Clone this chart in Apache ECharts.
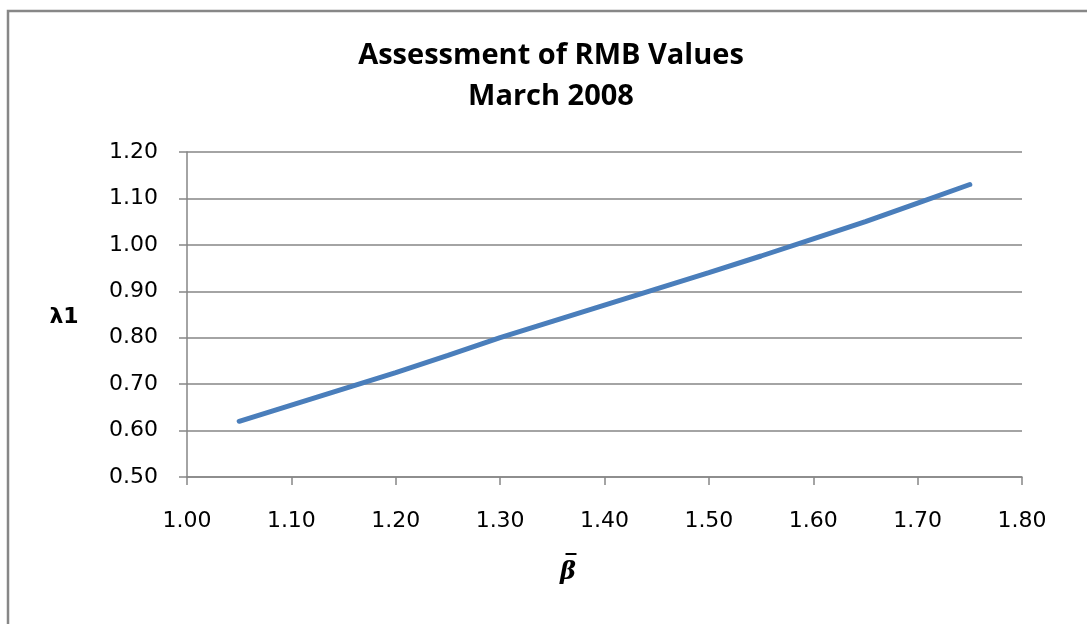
<!DOCTYPE html>
<html>
<head>
<meta charset="utf-8">
<script src="https://cdn.jsdelivr.net/npm/echarts@6/dist/echarts.min.js"></script>
<style>
  html, body { margin: 0; padding: 0; background: #fff; }
  #chart { width: 1087px; height: 624px; }
</style>
</head>
<body>
<div id="chart"></div>
<script>
// beta-bar values and the lambda1 estimate
const betaBar = [1.05, 1.10, 1.15, 1.20, 1.25, 1.30, 1.35, 1.40, 1.45, 1.50, 1.55, 1.60, 1.65, 1.70, 1.75];
const lambda1 = [0.62, 0.655, 0.69, 0.725, 0.762, 0.80, 0.835, 0.87, 0.905, 0.94, 0.976, 1.013, 1.05, 1.09, 1.13];

const titleLines = ["Assessment of RMB Values", "March 2008"];
const yName = "λ1";
const xName = "β";
const xNameBar = "\u203e";

const points = betaBar.map((b, i) => [b, lambda1[i]]);
const gridGray = "#868686";

const chart = echarts.init(document.getElementById("chart"));

chart.setOption({
  backgroundColor: "#fff",
  animation: false,
  graphic: [
    {
      type: "rect",
      shape: { x: 8, y: 11, width: 1200, height: 800 },
      style: { fill: "none", stroke: "#878787", lineWidth: 2.5 },
      silent: true,
    },
    {
      type: "text",
      x: 551,
      y: 56,
      style: {
        text: titleLines[0],
        fontFamily: "Open Sans",
        fontWeight: "bold",
        fontSize: 29,
        fill: "#000",
        align: "center",
        verticalAlign: "middle",
      },
    },
    {
      type: "text",
      x: 551,
      y: 97,
      style: {
        text: titleLines[1],
        fontFamily: "Open Sans",
        fontWeight: "bold",
        fontSize: 29,
        fill: "#000",
        align: "center",
        verticalAlign: "middle",
      },
    },
    {
      type: "text",
      x: 64,
      y: 317,
      style: {
        text: yName,
        fontFamily: "DejaVu Sans",
        fontWeight: "bold",
        fontSize: 22,
        fill: "#000",
        align: "center",
        verticalAlign: "middle",
      },
    },
    {
      type: "text",
      x: 568,
      y: 573,
      style: {
        text: xName,
        fontFamily: "DejaVu Serif",
        fontStyle: "italic",
        fontWeight: "bold",
        fontSize: 24,
        fill: "#000",
        align: "center",
        verticalAlign: "middle",
      },
    },
    {
      type: "text",
      x: 571,
      y: 563,
      style: {
        text: xNameBar,
        fontFamily: "DejaVu Sans",
        fontWeight: "bold",
        fontSize: 22,
        fill: "#000",
        align: "center",
        verticalAlign: "middle",
      },
    },
  ],
  grid: {
    left: 187,
    right: 65,
    top: 152,
    bottom: 147,
    containLabel: false,
  },
  xAxis: {
    type: "value",
    min: 1.0,
    max: 1.8,
    interval: 0.1,
    axisLine: { show: true, onZero: false, lineStyle: { color: gridGray, width: 1.5 } },
    axisTick: { show: true, length: 8, lineStyle: { color: gridGray, width: 1.5 } },
    splitLine: { show: false },
    axisLabel: {
      margin: 33,
      formatter: (v) => v.toFixed(2),
      fontFamily: "DejaVu Sans",
      fontSize: 22,
      color: "#000",
    },
  },
  yAxis: {
    type: "value",
    min: 0.5,
    max: 1.2,
    interval: 0.1,
    axisLine: { show: true, onZero: false, lineStyle: { color: gridGray, width: 1.5 } },
    axisTick: { show: true, length: 8, lineStyle: { color: gridGray, width: 1.5 } },
    splitLine: { show: true, lineStyle: { color: gridGray, width: 1.5 } },
    axisLabel: {
      margin: 29,
      formatter: (v) => v.toFixed(2),
      fontFamily: "DejaVu Sans",
      fontSize: 22,
      color: "#000",
    },
  },
  series: [
    {
      type: "line",
      data: points,
      showSymbol: false,
      smooth: false,
      lineStyle: { color: "#4a7ebb", width: 5, cap: "round" },
    },
  ],
});
</script>
</body>
</html>
